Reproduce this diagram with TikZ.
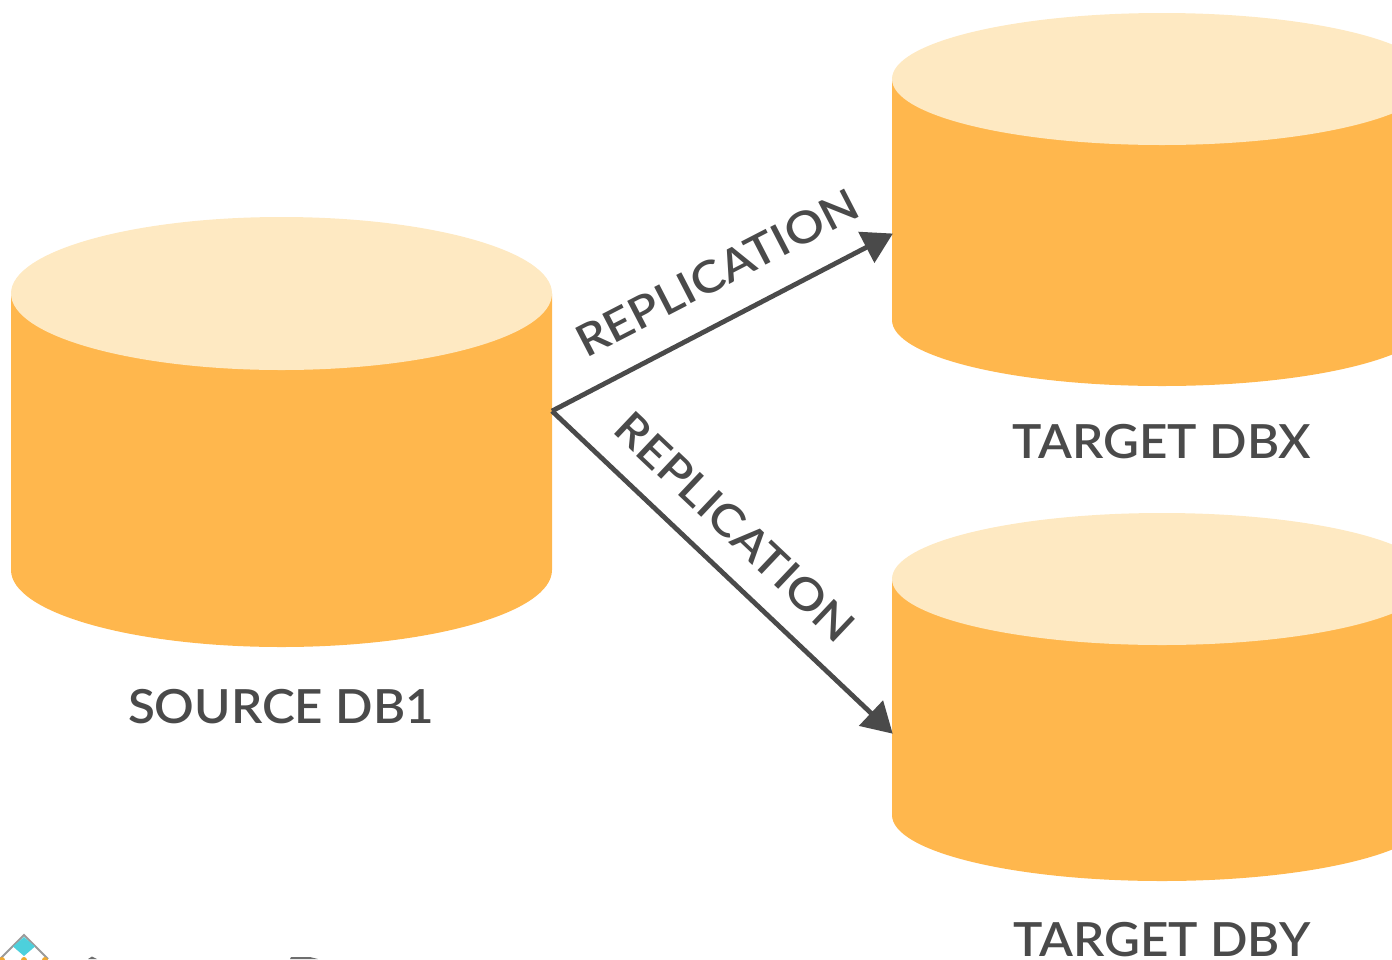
\documentclass[tikz,border=0pt]{standalone}
\usepackage{fontspec}
\setmainfont{Lato}
\newfontfamily\dbfont{Lato Semibold}[FakeStretch=1.05]
\newfontfamily\repfont{Lato Semibold}[FakeStretch=1.11]
\usetikzlibrary{arrows.meta}
\definecolor{cylbody}{HTML}{FFB74D}
\definecolor{cyltop}{HTML}{FEE9C2}
\definecolor{ink}{HTML}{4A4A4A}
\definecolor{logoteal}{HTML}{4DD0DC}
\definecolor{logogrey}{HTML}{9A9A9A}
\definecolor{logoorange}{HTML}{F0A830}
\tikzset{
  x=1pt,y=-1pt,
  cylbodyfill/.style={fill=cylbody,draw=none},
  cyltopfill/.style={fill=cyltop,draw=none},
  dblabel/.style={text=ink,font=\dbfont\fontsize{47}{47}\selectfont,inner sep=0pt,anchor=base},
  replabel/.style={text=ink,font=\repfont\fontsize{44}{44}\selectfont,inner sep=0pt,anchor=center},
  arrowline/.style={draw=ink,line width=4.8pt,-{Triangle[length=30pt,width=34pt]},shorten >=-1pt}
}
\newcommand{\dbry}{77}
\newcommand{\dbcyl}[5]{%
  \fill[cylbodyfill] (#1-#2,#3) -- (#1-#2,#5) arc[start angle=180,end angle=0,x radius=#2,y radius=\dbry] -- (#1+#2,#3) -- cycle;
  \fill[cyltopfill] (#1,#3) ellipse[x radius=#2,y radius=#4];
}
\begin{document}
\begin{tikzpicture}
\useasboundingbox (0,0) rectangle (1392,959);
\clip (0,0) rectangle (1392,959);
\renewcommand{\dbry}{77}
\dbcyl{281.5}{270.5}{293.5}{76.5}{570}
\renewcommand{\dbry}{66}
\dbcyl{1162}{270}{79}{66}{320}
\dbcyl{1162}{270}{579}{66}{815}
\coordinate (src) at (552,411);
\coordinate (tx) at (892,234);
\coordinate (ty) at (892,733);
\draw[arrowline] (src) -- (tx);
\draw[arrowline] (src) -- (ty);
\node[replabel,rotate=27.3] (r1) at (717,273) {REPLICATION};
\node[replabel,rotate=-43.4] (r2) at (735,527) {REPLICATION};
\node[dblabel] (a) at (281,723) {SOURCE DB1};
\node[dblabel] (b) at (1162,458) {TARGET DBX};
\node[dblabel] (c) at (1162,956) {TARGET DBY};
% logo fragment at the lower edge
\draw[logogrey,line width=2pt] (0,959) -- (24,935) -- (48,959);
\fill[logoteal] (24,937) -- (35,946.5) -- (24,956) -- (13,946.5) -- cycle;
\fill[logoorange] (2,960) circle (3) (24,960) circle (3) (45,960) circle (3);
\fill[ink!80] (88,959) -- (92,956.5) -- (97,959) -- cycle;
\fill[ink!80] (290,959) -- (291,957) -- (310,957) -- (318,959) -- cycle;
\end{tikzpicture}
\end{document}
